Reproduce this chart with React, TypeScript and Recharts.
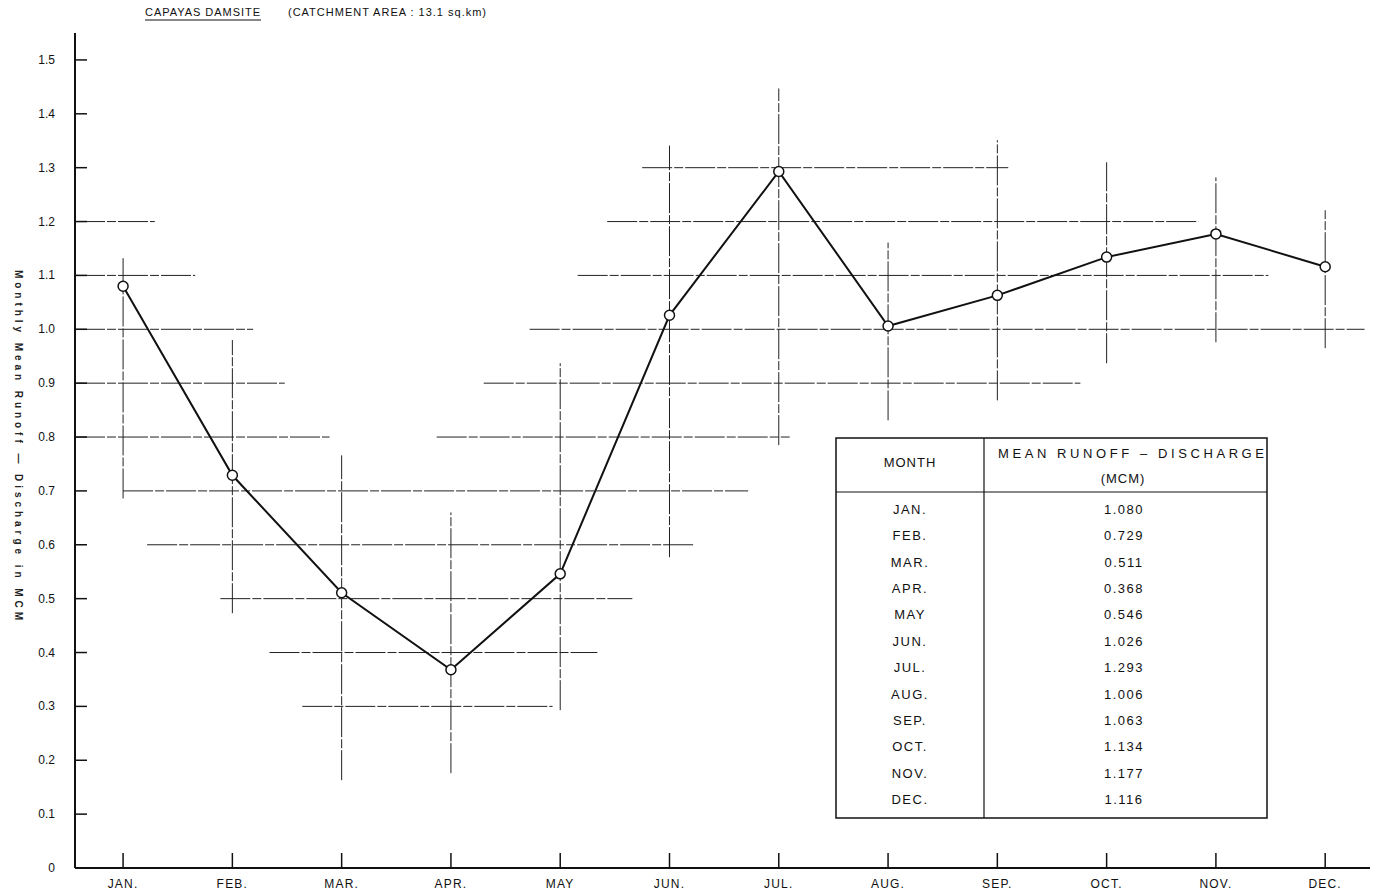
import { LineChart, Line, XAxis, YAxis, ReferenceLine } from 'recharts'

const MONTHS = ['JAN.', 'FEB.', 'MAR.', 'APR.', 'MAY', 'JUN.', 'JUL.', 'AUG.', 'SEP.', 'OCT.', 'NOV.', 'DEC.']
const RUNOFF = [1.08, 0.729, 0.511, 0.368, 0.546, 1.026, 1.293, 1.006, 1.063, 1.134, 1.177, 1.116]

const Y_TICKS = [0, 0.1, 0.2, 0.3, 0.4, 0.5, 0.6, 0.7, 0.8, 0.9, 1.0, 1.1, 1.2, 1.3, 1.4, 1.5]
const Y_TICK_LABELS = ['0', '0.1', '0.2', '0.3', '0.4', '0.5', '0.6', '0.7', '0.8', '0.9', '1.0', '1.1', '1.2', '1.3', '1.4', '1.5']
const X_TICKS = MONTHS.map((_, i) => i)

// broken grid-paper rulings: [runoff, from month, to month]
const H_RULES: [number, number, number][] = [
  [1.3, 4.75, 8.1],
  [1.2, -0.44, 0.29],
  [1.2, 4.43, 9.84],
  [1.1, -0.44, 0.66],
  [1.1, 4.16, 10.48],
  [1.0, -0.44, 1.19],
  [1.0, 3.72, 11.36],
  [0.9, -0.44, 1.48],
  [0.9, 3.3, 8.76],
  [0.8, -0.44, 1.89],
  [0.8, 2.87, 6.1],
  [0.7, 0, 5.72],
  [0.6, 0.22, 5.23],
  [0.5, 0.89, 4.66],
  [0.4, 1.34, 4.34],
  [0.3, 1.64, 3.93],
]

// [month, from runoff, to runoff]
const V_RULES: [number, number, number][] = [
  [0, 0.686, 1.132],
  [1, 0.473, 0.98],
  [2, 0.163, 0.766],
  [3, 0.176, 0.66],
  [4, 0.293, 0.937],
  [5, 0.577, 1.341],
  [6, 0.785, 1.447],
  [7, 0.831, 1.161],
  [8, 0.868, 1.351],
  [9, 0.937, 1.31],
  [10, 0.976, 1.282],
  [11, 0.965, 1.221],
]

const data = MONTHS.map((m, i) => ({ idx: i, month: m, runoff: RUNOFF[i] }))

const FONT = '"Liberation Sans", Arial, sans-serif'
const INK = '#111'

function YTick({ x, y, payload }: any) {
  const i = Y_TICKS.indexOf(payload.value)
  return (
    <g>
      {payload.value > 0 && <line x1={x} x2={x + 12} y1={y} y2={y} stroke={INK} strokeWidth={1.5} />}
      <text x={x - 20} y={y} dy={4} textAnchor="end" fontSize={12} fontFamily={FONT} fill={INK}>
        {Y_TICK_LABELS[i]}
      </text>
    </g>
  )
}

function XTick({ x, y, payload }: any) {
  return (
    <g>
      <line x1={x} x2={x} y1={y} y2={y - 15} stroke={INK} strokeWidth={1.5} />
      <text x={x} y={y + 20} textAnchor="middle" fontSize={12} fontFamily={FONT} fill={INK} letterSpacing={1.2}>
        {MONTHS[payload.value]}
      </text>
    </g>
  )
}

const ruleStyle = { stroke: '#222', strokeWidth: 1, strokeDasharray: '30 2 9 2' }

function RunoffTable() {
  const left = 836
  const right = 1267
  const top = 438
  const bottom = 818
  const split = 984
  const headLine = 492
  const rowStart = 509
  const rowStep = (799 - 509) / 11
  return (
    <g fontFamily={FONT} fill={INK}>
      <rect x={left} y={top} width={right - left} height={bottom - top} fill="#fff" stroke={INK} strokeWidth={1.5} />
      <line x1={split} x2={split} y1={top} y2={bottom} stroke={INK} strokeWidth={1.2} />
      <line x1={left} x2={right} y1={headLine} y2={headLine} stroke={INK} strokeWidth={1.2} />
      <text x={910} y={467} textAnchor="middle" fontSize={13} letterSpacing={1}>MONTH</text>
      <text x={998} y={458} fontSize={13} textLength={266} lengthAdjust="spacing">
        MEAN  RUNOFF – DISCHARGE
      </text>
      <text x={1123} y={483} textAnchor="middle" fontSize={13} letterSpacing={1}>(MCM)</text>
      {MONTHS.map((m, i) => (
        <g key={m}>
          <text x={910} y={rowStart + i * rowStep + 5} textAnchor="middle" fontSize={13} letterSpacing={1.5}>
            {m}
          </text>
          <text x={1124} y={rowStart + i * rowStep + 5} textAnchor="middle" fontSize={13} letterSpacing={1.5}>
            {RUNOFF[i].toFixed(3)}
          </text>
        </g>
      ))}
    </g>
  )
}

export default function App() {
  return (
    <div style={{ position: 'absolute', left: 0, top: 0, width: 1387, height: 894, background: '#fff' }}>
      <LineChart width={1387} height={894} data={data} margin={{ top: 33, right: 17, bottom: 25, left: 74 }}>
        <XAxis
          dataKey="idx"
          type="number"
          domain={[-0.44, 11.41]}
          ticks={X_TICKS}
          allowDataOverflow
          height={1}
          tickSize={0}
          tickMargin={0}
          tickLine={false}
          axisLine={{ stroke: INK, strokeWidth: 2 }}
          tick={<XTick />}
          interval={0}
        />
        <YAxis
          type="number"
          domain={[0, 1.55]}
          ticks={Y_TICKS}
          allowDataOverflow
          width={1}
          tickSize={0}
          tickMargin={0}
          tickLine={false}
          axisLine={{ stroke: INK, strokeWidth: 2 }}
          tick={<YTick />}
          interval={0}
        />
        {H_RULES.map(([v, a, b], i) => (
          <ReferenceLine key={`h${i}`} segment={[{ x: a, y: v }, { x: b, y: v }]} ifOverflow="visible" {...ruleStyle} />
        ))}
        {V_RULES.map(([m, a, b], i) => (
          <ReferenceLine key={`v${i}`} segment={[{ x: m, y: a }, { x: m, y: b }]} ifOverflow="visible" {...ruleStyle} />
        ))}
        <Line
          type="linear"
          dataKey="runoff"
          stroke={INK}
          strokeWidth={2}
          dot={{ r: 5, fill: '#fff', stroke: INK, strokeWidth: 1.5 }}
          isAnimationActive={false}
        />
      </LineChart>
      <svg width={1387} height={894} style={{ position: 'absolute', left: 0, top: 0, pointerEvents: 'none' }}>
        <g fontFamily={FONT} fill={INK} fontSize={11}>
          <text x={145} y={16} textLength={115} lengthAdjust="spacing">CAPAYAS DAMSITE</text>
          <line x1={145} x2={261} y1={20} y2={20} stroke={INK} strokeWidth={1} />
          <text x={288} y={16} textLength={198} lengthAdjust="spacing">(CATCHMENT AREA : 13.1 sq.km)</text>
        </g>
        <text
          x={15}
          y={445}
          transform="rotate(90 15 445)"
          textAnchor="middle"
          fontFamily={FONT}
          fontSize={10}
          fontWeight="bold"
          fill="#222"
          textLength={350}
          lengthAdjust="spacing"
        >
          Monthly Mean Runoff — Discharge in MCM
        </text>
        <RunoffTable />
      </svg>
    </div>
  )
}
